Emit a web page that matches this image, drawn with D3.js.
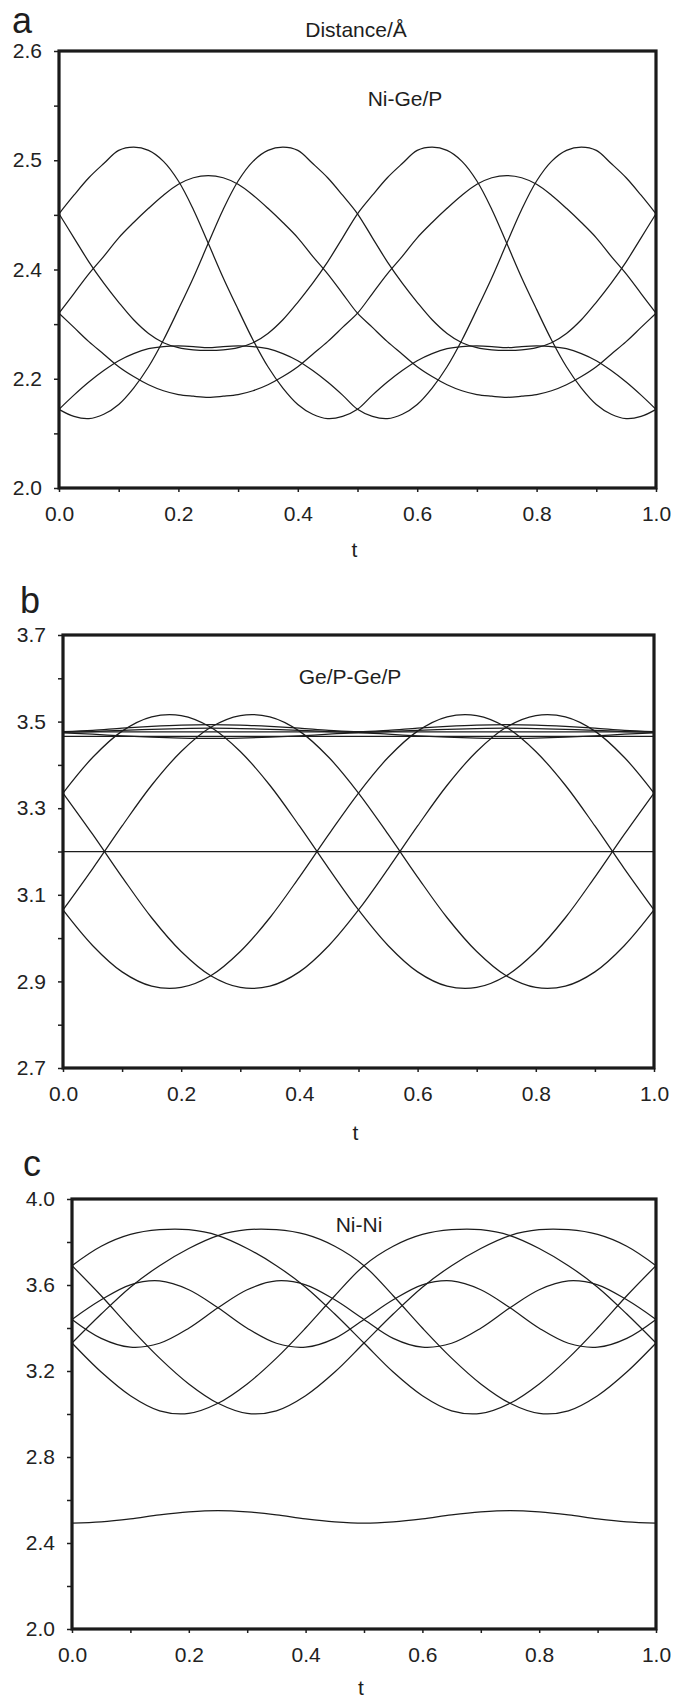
<!DOCTYPE html>
<html>
<head>
<meta charset="utf-8">
<script src="https://cdn.jsdelivr.net/npm/d3@7"></script>
<style>
  body { margin: 0; background: #fff; }
  svg text { font-family: "Liberation Sans", Arial, Helvetica, sans-serif; fill: #1e1e1e; }
</style>
</head>
<body>
<svg id="fig" width="673" height="1701"></svg>
<script>
// ---- sampling grids (phase t) ----
const tFine = d3.range(0, 41).map(i => i / 40);   // step 0.025
const tCoarse = d3.range(0, 21).map(i => i / 20); // step 0.05

// ---- panel a: Ni-Ge/P distances (Å), sampled on tFine ----
const niGeP1 = [2.451, 2.468, 2.484, 2.497, 2.509, 2.512, 2.509, 2.499, 2.481, 2.455, 2.424, 2.385, 2.327, 2.271, 2.222, 2.183, 2.153, 2.135, 2.127, 2.131, 2.144, 2.170, 2.194, 2.215, 2.233, 2.246, 2.255, 2.259, 2.260, 2.259, 2.257, 2.259, 2.260, 2.259, 2.255, 2.246, 2.233, 2.215, 2.194, 2.170, 2.144];
const niGeP2 = [2.144, 2.170, 2.194, 2.215, 2.233, 2.246, 2.255, 2.259, 2.260, 2.259, 2.257, 2.259, 2.260, 2.259, 2.255, 2.246, 2.233, 2.215, 2.194, 2.170, 2.144, 2.131, 2.127, 2.135, 2.153, 2.183, 2.222, 2.271, 2.327, 2.385, 2.424, 2.455, 2.481, 2.499, 2.509, 2.512, 2.509, 2.497, 2.484, 2.468, 2.451];
const niGeP3 = [2.144, 2.131, 2.127, 2.135, 2.153, 2.183, 2.222, 2.271, 2.327, 2.385, 2.424, 2.455, 2.481, 2.499, 2.509, 2.512, 2.509, 2.497, 2.484, 2.468, 2.451, 2.429, 2.407, 2.375, 2.340, 2.308, 2.283, 2.266, 2.257, 2.253, 2.252, 2.253, 2.257, 2.266, 2.283, 2.308, 2.340, 2.375, 2.407, 2.429, 2.451];
const niGeP4 = [2.451, 2.429, 2.407, 2.375, 2.340, 2.308, 2.283, 2.266, 2.257, 2.253, 2.252, 2.253, 2.257, 2.266, 2.283, 2.308, 2.340, 2.375, 2.407, 2.429, 2.451, 2.468, 2.484, 2.497, 2.509, 2.512, 2.509, 2.499, 2.481, 2.455, 2.424, 2.385, 2.327, 2.271, 2.222, 2.183, 2.153, 2.135, 2.127, 2.131, 2.144];
const niGeP5 = [2.320, 2.356, 2.392, 2.412, 2.429, 2.443, 2.456, 2.468, 2.478, 2.484, 2.486, 2.484, 2.478, 2.468, 2.456, 2.443, 2.429, 2.412, 2.392, 2.356, 2.320, 2.294, 2.268, 2.245, 2.222, 2.204, 2.189, 2.178, 2.171, 2.168, 2.166, 2.168, 2.171, 2.178, 2.189, 2.204, 2.222, 2.245, 2.268, 2.294, 2.320];
const niGeP6 = [2.320, 2.294, 2.268, 2.245, 2.222, 2.204, 2.189, 2.178, 2.171, 2.168, 2.166, 2.168, 2.171, 2.178, 2.189, 2.204, 2.222, 2.245, 2.268, 2.294, 2.320, 2.356, 2.392, 2.412, 2.429, 2.443, 2.456, 2.468, 2.478, 2.484, 2.486, 2.484, 2.478, 2.468, 2.456, 2.443, 2.429, 2.412, 2.392, 2.356, 2.320];

// ---- panel b: Ge/P-Ge/P distances (Å), sampled on tCoarse ----
const gePGeP1 = [3.335, 3.417, 3.478, 3.511, 3.514, 3.487, 3.431, 3.353, 3.259, 3.160, 3.065, 2.983, 2.922, 2.889, 2.886, 2.913, 2.969, 3.047, 3.141, 3.240, 3.335];
const gePGeP2 = [3.065, 3.160, 3.259, 3.353, 3.431, 3.487, 3.514, 3.511, 3.478, 3.417, 3.335, 3.240, 3.141, 3.047, 2.969, 2.913, 2.886, 2.889, 2.922, 2.983, 3.065];
const gePGeP3 = [3.065, 2.983, 2.922, 2.889, 2.886, 2.913, 2.969, 3.047, 3.141, 3.240, 3.335, 3.417, 3.478, 3.511, 3.514, 3.487, 3.431, 3.353, 3.259, 3.160, 3.065];
const gePGeP4 = [3.335, 3.240, 3.141, 3.047, 2.969, 2.913, 2.886, 2.889, 2.922, 2.983, 3.065, 3.160, 3.259, 3.353, 3.431, 3.487, 3.514, 3.511, 3.478, 3.417, 3.335];
const gePGeP5 = [3.200, 3.200, 3.200, 3.200, 3.200, 3.200, 3.200, 3.200, 3.200, 3.200, 3.200, 3.200, 3.200, 3.200, 3.200, 3.200, 3.200, 3.200, 3.200, 3.200, 3.200];
const gePGeP6 = [3.477, 3.480, 3.485, 3.489, 3.492, 3.493, 3.492, 3.489, 3.485, 3.480, 3.477, 3.480, 3.485, 3.489, 3.492, 3.493, 3.492, 3.489, 3.485, 3.480, 3.477];
const gePGeP7 = [3.475, 3.477, 3.480, 3.482, 3.484, 3.485, 3.484, 3.482, 3.480, 3.477, 3.475, 3.477, 3.480, 3.482, 3.484, 3.485, 3.484, 3.482, 3.480, 3.477, 3.475];
const gePGeP8 = [3.476, 3.476, 3.476, 3.476, 3.476, 3.476, 3.476, 3.476, 3.476, 3.476, 3.476, 3.476, 3.476, 3.476, 3.476, 3.476, 3.476, 3.476, 3.476, 3.476, 3.476];
const gePGeP9 = [3.474, 3.471, 3.467, 3.464, 3.462, 3.461, 3.462, 3.464, 3.467, 3.471, 3.474, 3.471, 3.467, 3.464, 3.462, 3.461, 3.462, 3.464, 3.467, 3.471, 3.474];
const gePGeP10 = [3.466, 3.466, 3.466, 3.466, 3.466, 3.466, 3.466, 3.466, 3.466, 3.466, 3.466, 3.466, 3.466, 3.466, 3.466, 3.466, 3.466, 3.466, 3.466, 3.466, 3.466];

// ---- panel c: Ni-Ni distances (Å), sampled on tCoarse ----
const niNi1 = [3.690, 3.780, 3.835, 3.857, 3.857, 3.830, 3.770, 3.690, 3.590, 3.465, 3.330, 3.195, 3.085, 3.015, 3.003, 3.050, 3.140, 3.260, 3.400, 3.550, 3.690];
const niNi2 = [3.330, 3.465, 3.590, 3.690, 3.770, 3.830, 3.857, 3.857, 3.835, 3.780, 3.690, 3.550, 3.400, 3.260, 3.140, 3.050, 3.003, 3.015, 3.085, 3.195, 3.330];
const niNi3 = [3.330, 3.195, 3.085, 3.015, 3.003, 3.050, 3.140, 3.260, 3.400, 3.550, 3.690, 3.780, 3.835, 3.857, 3.857, 3.830, 3.770, 3.690, 3.590, 3.465, 3.330];
const niNi4 = [3.690, 3.550, 3.400, 3.260, 3.140, 3.050, 3.003, 3.015, 3.085, 3.195, 3.330, 3.465, 3.590, 3.690, 3.770, 3.830, 3.857, 3.857, 3.835, 3.780, 3.690];
const niNi5 = [3.440, 3.531, 3.601, 3.619, 3.578, 3.494, 3.399, 3.329, 3.311, 3.352, 3.440, 3.531, 3.601, 3.619, 3.578, 3.494, 3.399, 3.329, 3.311, 3.352, 3.440];
const niNi6 = [3.440, 3.352, 3.311, 3.329, 3.399, 3.494, 3.578, 3.619, 3.601, 3.531, 3.440, 3.352, 3.311, 3.329, 3.399, 3.494, 3.578, 3.619, 3.601, 3.531, 3.440];
const niNi7 = [2.492, 2.498, 2.512, 2.531, 2.545, 2.551, 2.545, 2.531, 2.512, 2.498, 2.492, 2.498, 2.512, 2.531, 2.545, 2.551, 2.545, 2.531, 2.512, 2.498, 2.492];

// ---- axis ticks and labels ----
const xTicks = [0, 0.1, 0.2, 0.3, 0.4, 0.5, 0.6, 0.7, 0.8, 0.9, 1.0];
const xLabels = [0, 0.2, 0.4, 0.6, 0.8, 1.0];
const yTicksA = [2.0, 2.1, 2.2, 2.3, 2.4, 2.45, 2.5, 2.55, 2.6];
const yLabelsA = [2.0, 2.2, 2.4, 2.5, 2.6];
const yTicksB = [2.7, 2.8, 2.9, 3.0, 3.1, 3.2, 3.3, 3.4, 3.5, 3.6, 3.7];
const yLabelsB = [2.7, 2.9, 3.1, 3.3, 3.5, 3.7];
const yTicksC = [2.0, 2.2, 2.4, 2.6, 2.8, 3.0, 3.2, 3.4, 3.6, 3.8, 4.0];
const yLabelsC = [2.0, 2.4, 2.8, 3.2, 3.6, 4.0];

const svg = d3.select("#fig");
const FONT = 21;

const panels = [
  {
    letter: "a", title: "Ni-Ge/P",
    box: { left: 59, right: 656, top: 51, bottom: 488 },
    yDomain: [2.0, 2.4, 2.6],
    yTicks: yTicksA, yLabels: yLabelsA,
    t: tFine, series: [niGeP1, niGeP2, niGeP3, niGeP4, niGeP5, niGeP6],
    letterPos: [12, 33], titlePos: [405, 106], tPos: 557
  },
  {
    letter: "b", title: "Ge/P-Ge/P",
    box: { left: 63, right: 654, top: 635, bottom: 1068 },
    yDomain: [2.7, 3.7],
    yTicks: yTicksB, yLabels: yLabelsB,
    t: tCoarse, series: [gePGeP1, gePGeP2, gePGeP3, gePGeP4, gePGeP5, gePGeP6, gePGeP7, gePGeP8, gePGeP9, gePGeP10],
    letterPos: [20, 613], titlePos: [350, 684], tPos: 1140
  },
  {
    letter: "c", title: "Ni-Ni",
    box: { left: 72, right: 656, top: 1199, bottom: 1629 },
    yDomain: [2.0, 4.0],
    yTicks: yTicksC, yLabels: yLabelsC,
    t: tCoarse, series: [niNi1, niNi2, niNi3, niNi4, niNi5, niNi6, niNi7],
    letterPos: [23, 1176], titlePos: [359, 1232], tPos: 1695
  }
];

const isLabel = (list, d) => list.some(v => Math.abs(v - d) < 1e-9);

panels.forEach(p => {
  const b = p.box;
  const x = d3.scaleLinear().domain([0, 1]).range([b.left, b.right]);
  const yRange = p.yDomain.length === 3
    ? [b.bottom, b.bottom - (b.bottom - b.top) * 4 / 8, b.top]
    : [b.bottom, b.top];
  const y = d3.scaleLinear().domain(p.yDomain).range(yRange);

  const g = svg.append("g");

  // distance curves
  const line = d3.line()
    .x(d => x(d[0]))
    .y(d => y(d[1]))
    .curve(d3.curveCatmullRom.alpha(0.5));
  p.series.forEach(vals => {
    g.append("path")
      .datum(p.t.map((tv, i) => [tv, vals[i]]))
      .attr("d", line)
      .attr("fill", "none")
      .attr("stroke", "#1c1c1c")
      .attr("stroke-width", 1.25);
  });

  // y axis
  const yAxis = d3.axisLeft(y)
    .tickValues(p.yTicks)
    .tickSize(5)
    .tickPadding(12)
    .tickFormat(d => isLabel(p.yLabels, d) ? d.toFixed(1) : "");
  const ya = g.append("g").attr("transform", `translate(${b.left},0)`).call(yAxis);

  // x axis
  const xAxis = d3.axisBottom(x)
    .tickValues(xTicks)
    .tickSize(4)
    .tickPadding(14)
    .tickFormat(d => isLabel(xLabels, d) ? d.toFixed(1) : "");
  const xa = g.append("g").attr("transform", `translate(0,${b.bottom})`).call(xAxis);

  [ya, xa].forEach(a => {
    a.select(".domain").remove();
    a.selectAll(".tick line").attr("stroke", "#1e1e1e").attr("stroke-width", 1.5);
    a.selectAll(".tick text").attr("font-size", FONT).style("fill", "#222");
  });

  // heavy frame
  g.append("rect")
    .attr("x", b.left).attr("y", b.top)
    .attr("width", b.right - b.left).attr("height", b.bottom - b.top)
    .attr("fill", "none").attr("stroke", "#1a1a1a").attr("stroke-width", 3.2);

  // panel letter, series title, axis title
  g.append("text").attr("x", p.letterPos[0]).attr("y", p.letterPos[1])
    .attr("font-size", 36).text(p.letter);
  g.append("text").attr("x", p.titlePos[0]).attr("y", p.titlePos[1])
    .attr("font-size", FONT).attr("text-anchor", "middle").text(p.title);
  g.append("text").attr("x", (b.left + b.right) / 2 - 3).attr("y", p.tPos)
    .attr("font-size", FONT).attr("text-anchor", "middle").text("t");
});

// quantity label above the first panel
svg.append("text").attr("x", 356).attr("y", 37)
  .attr("font-size", FONT).attr("text-anchor", "middle").text("Distance/Å");
</script>
</body>
</html>
